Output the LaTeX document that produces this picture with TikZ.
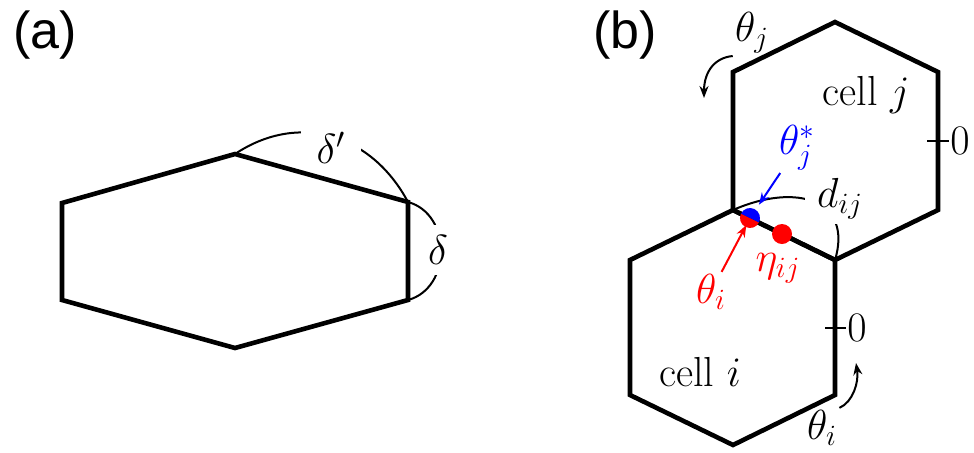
\documentclass[tikz,border=0pt]{standalone}
\usepackage{fix-cm}
\usepackage{fontspec}
\newfontfamily\panelfont{Liberation Sans}
\usetikzlibrary{arrows.meta}

\begin{document}
\begin{tikzpicture}[x=0.5pt, y=-0.5pt, >={Stealth[length=6pt,width=4.5pt]},
    font=\fontsize{21}{25}\selectfont,
    hexline/.style={line width=2.3pt},
    thinline/.style={line width=1pt},
    gap/.style={fill=white, inner sep=2pt},
    lbl/.style={inner sep=1pt},
    panel/.style={font=\panelfont\fontsize{26}{30}\selectfont}]
  \useasboundingbox (0,0) rectangle (974,452);

  % (a) single cell
  \node[panel] (pa) at (45,35) {(a)};
  \coordinate (at) at (235,154);
  \coordinate (ar) at (408,202);
  \coordinate (arb) at (408,300);
  \draw[thinline] (at) .. controls (298,112) and (371,133) .. (ar);
  \draw[thinline] (ar) .. controls (452,214) and (452,288) .. (arb);
  \node[gap, inner xsep=8pt, inner ysep=4pt] (dp) at (331,148) {$\delta'$};
  \node[gap, inner xsep=2pt, inner ysep=5pt] (dl) at (438,250) {$\delta$};
  \draw[hexline] (62,203) -- (at) -- (ar) -- (arb) -- (235,348) -- (62,300) -- cycle;

  % (b) two neighbouring cells
  \node[panel] (pb) at (625,35) {(b)};
  \coordinate (v1) at (733,210);
  \coordinate (v2) at (835,260);
  \coordinate (ti) at (750,218);
  \coordinate (eij) at (782,234);
  \draw[thinline] (v1) .. controls (797,182) and (853,200) .. (v2);
  \node[gap, inner xsep=6pt, inner ysep=2pt] (dij) at (840,199) {$d_{ij}$};
  \draw[hexline] (835,22) -- (938,72) -- (938,210) -- (v2) -- (v1) -- (733,72) -- cycle;
  \draw[hexline] (v1) -- (v2) -- (835,395) -- (733,445) -- (630,395) -- (630,260) -- cycle;
  \node[anchor=base] (cj) at (866,105) {cell $j$};
  \node[anchor=base] (ci) at (700,386) {cell $i$};

  % zero marks
  \draw[thinline] (927,141) -- (949,141);
  \node[lbl, anchor=west] (zj) at (948,141) {$0$};
  \draw[thinline] (825,328) -- (846,328);
  \node[lbl, anchor=west] (zi) at (845,328) {$0$};

  % points on the shared edge
  \fill[red] (eij) circle (10);
  \fill[red] (ti) ++(26:10) arc[start angle=26, end angle=206, radius=10] -- cycle;
  \fill[blue] (ti) ++(26:10) arc[start angle=26, end angle=-154, radius=10] -- cycle;
  \node[lbl, blue] (tjs) at (797,148) {$\theta_j^*$};
  \draw[->, thinline, blue, shorten >=8pt] (tjs) -- (ti);
  \node[lbl, red] (til) at (711,292) {$\theta_i$};
  \draw[->, thinline, red, shorten >=4pt] (til) -- (ti);
  \node[lbl, red] (el) at (778,268) {$\eta_{ij}$};

  % angle directions
  \node[lbl] (tj) at (752,33) {$\theta_j$};
  \coordinate (tjend) at (704,98);
  \draw[->, thinline] (tj.south west) .. controls (712,58) and (704,75) .. (tjend);
  \node[lbl] (tib) at (822,428) {$\theta_i$};
  \coordinate (tiend) at (856,363);
  \draw[->, thinline] (tib.north east) .. controls (853,402) and (859,382) .. (tiend);
\end{tikzpicture}
\end{document}
